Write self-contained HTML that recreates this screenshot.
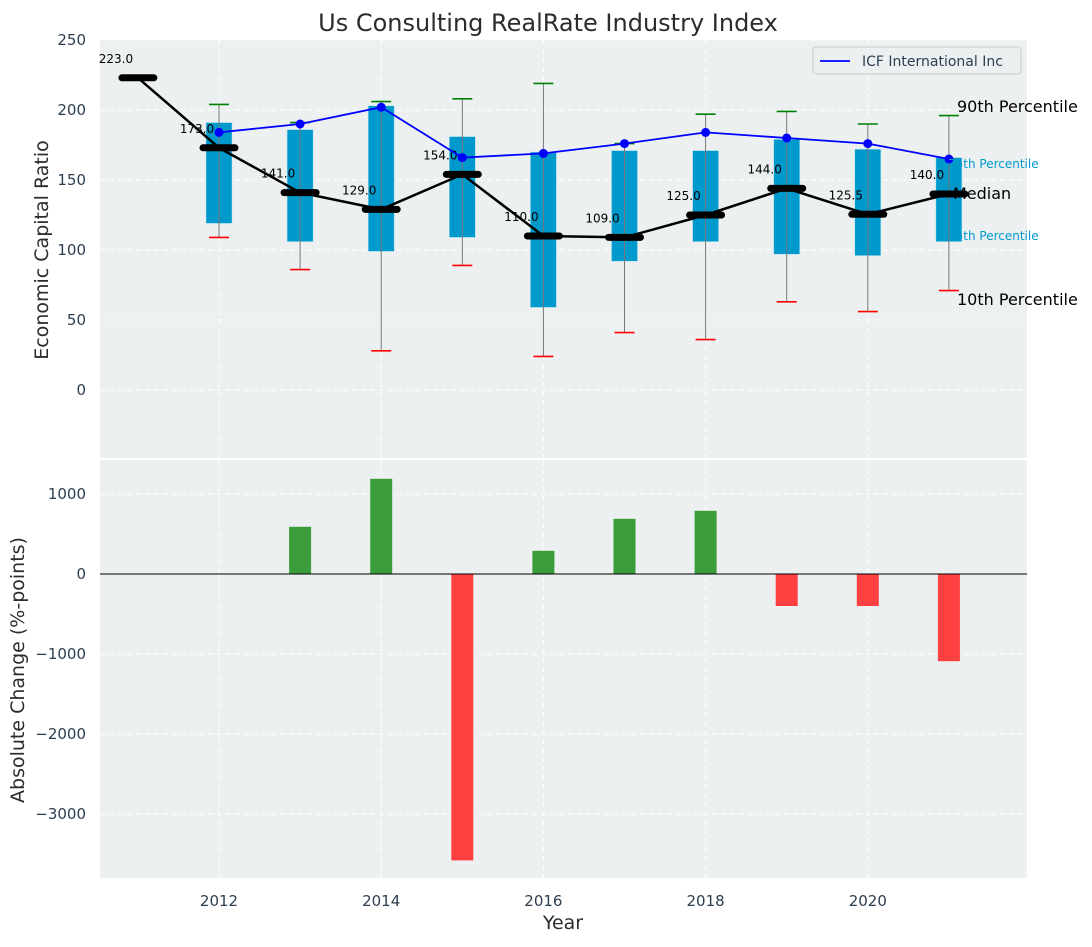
<!DOCTYPE html>
<html><head><meta charset="utf-8"><style>
body{margin:0;background:#fff;}
svg{font-family:"DejaVu Sans","Liberation Sans",sans-serif;}
</style></head><body>
<svg id="c" width="1092" height="942" xmlns="http://www.w3.org/2000/svg"></svg>
<script>
const years=[2011,2012,2013,2014,2015,2016,2017,2018,2019,2020,2021];
const medians=[223,173,141,129,154,110,109,125,144,125.5,140];
const p90=[null,204,191,206,208,219,176,197,199,190,196];
const p75=[null,191,186,203,181,170,171,171,179,172,166];
const p25=[null,119,106,99,109,59,92,106,97,96,106];
const p10=[null,109,86,28,89,24,41,36,63,56,71];
const icf=[null,184,190,202,166,169,176,184,180,176,165];
const changeYears=[2013,2014,2015,2016,2017,2018,2019,2020,2021];
const changes=[590,1190,-3580,290,690,790,-400,-400,-1090];
const topTicks=[0,50,100,150,200,250];
const botTicks=[-3000,-2000,-1000,0,1000];
const xTicks=[2012,2014,2016,2018,2020];

const NS="http://www.w3.org/2000/svg";
const svg=document.getElementById('c');
function el(t,a,p){const e=document.createElementNS(NS,t);for(const k in a)e.setAttribute(k,a[k]);(p||svg).appendChild(e);return e;}
const L=100,R=1027;
const x=v=>219+(v-2012)*81.1;
const yT=v=>390-v*1.4;
const yB=v=>574-v*0.08;
const TT=40,TB=458,BT=460,BB=878;

let e=el('rect',{x:L,y:TT,width:R-L,height:TB-TT,fill:'#ecf0f1'});

e=el('rect',{x:L,y:BT,width:R-L,height:BB-BT,fill:'#ecf0f1'});


xTicks.forEach(v=>{
 [[TT,TB],[BT,BB]].forEach(r=>{const g=el('line',{x1:x(v),x2:x(v),y1:r[0],y2:r[1],stroke:'#fff','stroke-dasharray':'5,4','stroke-width':1});
 });
 const t=el('text',{x:x(v),y:906,'text-anchor':'middle','font-size':15,fill:'#2c3e50'});t.textContent=v;
 
});
topTicks.forEach(v=>{
 const g=el('line',{x1:L,x2:R,y1:yT(v),y2:yT(v),stroke:'#fff','stroke-dasharray':'5,4','stroke-width':1});
 
 const t=el('text',{x:86,y:yT(v)+5,'text-anchor':'end','font-size':15,fill:'#2c3e50'});t.textContent=v;
 
});
botTicks.forEach(v=>{
 const g=el('line',{x1:L,x2:R,y1:yB(v),y2:yB(v),stroke:'#fff','stroke-dasharray':'5,4','stroke-width':1});
 
 const t=el('text',{x:86,y:yB(v)+5,'text-anchor':'end','font-size':15,fill:'#2c3e50'});t.textContent=(v<0?'\u2212'+(-v):v);
 
});

years.forEach((yr,i)=>{
 if(p90[i]==null)return;
 const cx=x(yr);
 const b=el('rect',{x:cx-13,y:yT(p75[i]),width:26,height:yT(p25[i])-yT(p75[i]),fill:'#0099cc',stroke:'#b0e0f0','stroke-width':0.5});
 
 const w=el('line',{x1:cx,x2:cx,y1:yT(p90[i]),y2:yT(p10[i]),stroke:'#777','stroke-width':1});
 
 const c1=el('line',{x1:cx-10,x2:cx+10,y1:yT(p90[i]),y2:yT(p90[i]),stroke:'green','stroke-width':1.6});
 
 const c2=el('line',{x1:cx-10,x2:cx+10,y1:yT(p10[i]),y2:yT(p10[i]),stroke:'red','stroke-width':1.6});
 
});
let pts=years.map((yr,i)=>x(yr)+','+yT(medians[i])).join(' ');
e=el('polyline',{points:pts,fill:'none',stroke:'#000','stroke-width':2.5});

years.forEach((yr,i)=>{
 const m=el('line',{x1:x(yr)-16,x2:x(yr)+16,y1:yT(medians[i]),y2:yT(medians[i]),stroke:'#000','stroke-width':7,'stroke-linecap':'round'});
 
 const t=el('text',{x:x(yr)-22,y:yT(medians[i])-15,'text-anchor':'middle','font-size':12,fill:'#000'});t.textContent=medians[i].toFixed(1);
 
});
const ip=[];years.forEach((yr,i)=>{if(icf[i]!=null){ip.push(x(yr)+','+yT(icf[i]));}});
e=el('polyline',{points:ip.join(' '),fill:'none',stroke:'#0000ff','stroke-width':1.8});

years.forEach((yr,i)=>{if(icf[i]==null)return;
 const d=el('circle',{cx:x(yr),cy:yT(icf[i]),r:4.5,fill:'#0000ff'});
 });

[['90th Percentile',957,112,16,'#000'],['75th Percentile',948,168,12,'#0099cc'],['Median',953,199,16,'#000'],['25th Percentile',948,240,12,'#0099cc'],['10th Percentile',957,305,16,'#000']].forEach(a=>{
 const t=el('text',{x:a[1],y:a[2],'font-size':a[3],fill:a[4]});t.textContent=a[0];
 });

const lg=el('g',{});
el('rect',{x:813,y:47,width:208,height:27,rx:3,fill:'#ecf0f1',stroke:'#ccc'},lg);
el('line',{x1:820,x2:850,y1:61,y2:61,stroke:'#0000ff','stroke-width':1.8},lg);
e=el('text',{x:862,y:66,'font-size':14,fill:'#2c3e50'},lg);e.textContent='ICF International Inc';


changeYears.forEach((yr,i)=>{const v=changes[i];
 const b=el('rect',{x:x(yr)-11,y:Math.min(yB(v),yB(0)),width:22,height:Math.abs(yB(v)-yB(0)),fill:v>=0?'#3a9c3a':'#ff4040'});
 });
e=el('line',{x1:L,x2:R,y1:yB(0),y2:yB(0),stroke:'#000','stroke-width':1});


e=el('text',{x:548,y:31,'text-anchor':'middle','font-size':24,fill:'#2c2c2c'});e.textContent='Us Consulting RealRate Industry Index';

e=el('text',{x:563,y:929,'text-anchor':'middle','font-size':19,fill:'#2c2c2c'});e.textContent='Year';

e=el('text',{x:0,y:0,'text-anchor':'middle','font-size':19,fill:'#2c2c2c',transform:'translate(48,250) rotate(-90)'});e.textContent='Economic Capital Ratio';

e=el('text',{x:0,y:0,'text-anchor':'middle','font-size':19,fill:'#2c2c2c',transform:'translate(24,670) rotate(-90)'});e.textContent='Absolute Change (%-points)';

</script>
</body></html>
